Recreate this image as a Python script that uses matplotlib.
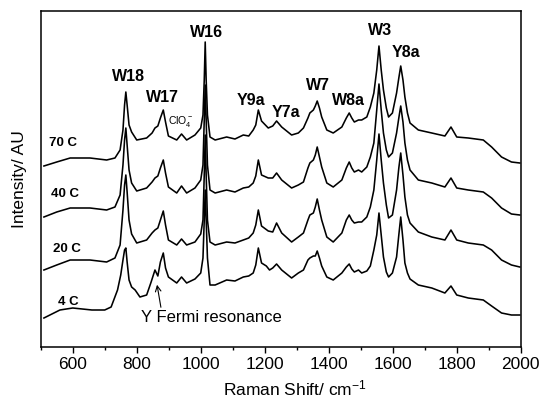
import matplotlib
matplotlib.use("Agg")
import matplotlib.pyplot as plt

plt.rcParams['font.family'] = ['Liberation Sans', 'DejaVu Sans']
plt.rcParams['mathtext.fontset'] = 'custom'
plt.rcParams['mathtext.rm'] = 'Liberation Sans'
plt.rcParams['mathtext.it'] = 'Liberation Sans:italic'
plt.rcParams['mathtext.bf'] = 'Liberation Sans:bold'

# Raman shift (cm-1) and stacked intensity (AU) for each temperature
shift_70 = [510, 550, 592, 654, 706, 732, 748, 757, 762, 766, 770, 776, 784, 800, 831, 848, 857, 866, 874, 883,
            890, 899, 925, 940, 956, 982, 1000, 1007, 1011, 1014, 1017, 1021, 1029, 1045, 1081, 1107, 1133, 1150,
            1164, 1172, 1180, 1190, 1211, 1225, 1237, 1253, 1284, 1305, 1321, 1335, 1341, 1352, 1358, 1364, 1371,
            1378, 1394, 1414, 1441, 1455, 1464, 1472, 1480, 1493, 1503, 1519, 1530, 1541, 1550, 1557, 1564, 1571,
            1580, 1587, 1599, 1612, 1619, 1625, 1632, 1638, 1646, 1654, 1680, 1722, 1763, 1782, 1800, 1836, 1883,
            1909, 1940, 1971, 1997]
int_70 = [181, 185, 189, 189, 187, 189, 197, 217, 242, 255, 242, 222, 215, 207, 209, 214, 219, 221, 229, 237,
          225, 211, 207, 213, 207, 212, 219, 232, 267, 305, 267, 232, 210, 207, 210, 208, 212, 211,
          217, 222, 237, 226, 219, 221, 226, 220, 212, 214, 219, 229, 234, 237, 241, 246, 239,
          230, 217, 214, 220, 229, 234, 229, 225, 227, 227, 230, 240, 254, 277, 301, 277, 257,
          239, 230, 234, 254, 269, 281, 267, 250, 234, 224, 217, 214, 211, 220, 210, 209, 207,
          200, 190, 185, 184]

shift_40 = shift_70
int_40 = [130, 135, 139, 139, 137, 140, 152, 182, 207, 219, 202, 177, 164, 156, 159, 165, 169, 171, 179, 187,
          174, 160, 154, 161, 154, 159, 167, 182, 227, 262, 227, 182, 157, 154, 157, 155, 159, 160,
          164, 171, 187, 172, 169, 169, 174, 167, 159, 162, 165, 179, 184, 187, 192, 200, 190,
          180, 164, 160, 167, 179, 185, 179, 175, 177, 175, 180, 190, 204, 237, 263, 237, 214,
          197, 190, 194, 214, 229, 241, 225, 204, 187, 177, 167, 164, 160, 169, 159, 157, 155,
          149, 139, 133, 132]

shift_20 = shift_70
int_20 = [77, 82, 87, 87, 85, 89, 102, 137, 162, 172, 155, 127, 113, 104, 107, 114, 117, 119, 127, 136,
          122, 107, 102, 108, 102, 105, 113, 127, 172, 212, 172, 127, 105, 102, 105, 104, 107, 109,
          114, 122, 137, 121, 116, 115, 124, 114, 105, 110, 114, 127, 132, 134, 140, 148, 137,
          127, 110, 105, 114, 127, 132, 127, 124, 125, 125, 130, 140, 157, 187, 213, 187, 164,
          142, 129, 132, 157, 179, 194, 172, 150, 132, 124, 115, 110, 107, 117, 107, 104, 102,
          97, 87, 82, 80]

shift_4 = [510, 560, 600, 660, 700, 720, 740, 750, 757, 762, 766, 770, 776, 784, 795, 810, 831, 845, 857, 866,
           874, 883, 890, 899, 925, 940, 956, 982, 1000, 1007, 1011, 1014, 1017, 1021, 1029, 1045, 1081, 1107,
           1133, 1150, 1164, 1172, 1180, 1190, 1205, 1215, 1225, 1237, 1253, 1284, 1305, 1321, 1335, 1341, 1352,
           1358, 1364, 1371, 1378, 1394, 1414, 1441, 1455, 1464, 1472, 1480, 1493, 1503, 1519, 1530, 1541, 1550,
           1557, 1564, 1571, 1580, 1587, 1599, 1612, 1619, 1625, 1632, 1638, 1646, 1654, 1680, 1722, 1763, 1782,
           1800, 1836, 1883, 1909, 1940, 1971, 1997]
int_4 = [29, 37, 39, 37, 37, 40, 57, 72, 87, 97, 99, 85, 67, 60, 57, 50, 52, 65, 77, 71,
         85, 94, 79, 70, 64, 70, 64, 68, 74, 89, 127, 157, 127, 89, 62, 62, 67, 66,
         70, 71, 74, 82, 99, 84, 81, 77, 79, 83, 77, 69, 74, 77, 87, 89, 91,
         91, 96, 89, 81, 70, 67, 74, 80, 83, 78, 75, 77, 74, 76, 81, 97, 112,
         134, 112, 90, 75, 70, 74, 90, 112, 130, 107, 84, 74, 68, 62, 59, 54, 61,
         52, 49, 47, 41, 34, 32, 32]

temp_labels = ['70 C', '40 C', '20 C', '4 C']
temp_label_x = [570, 576, 581, 586]
temp_label_y = [204, 153, 98, 45]

band_names = ['W18', 'W17', 'W16', 'Y9a', 'Y7a', 'W7', 'W8a', 'W3', 'Y8a']
band_x = [773, 881, 1019, 1157, 1266, 1367, 1463, 1559, 1640]
band_y = [271, 250, 315, 247, 235, 262, 247, 317, 295]

fig = plt.figure(figsize=(5.43, 4.0), dpi=100)
ax = fig.add_axes([0.075, 0.1325, 0.884, 0.84])

for xs, ys in [(shift_70, int_70), (shift_40, int_40), (shift_20, int_20), (shift_4, int_4)]:
    ax.plot(xs, ys, color='black', lw=1.15)

for t, x, y in zip(temp_labels, temp_label_x, temp_label_y):
    ax.text(x, y, t, fontsize=9.5, fontweight='bold', ha='center', va='center')

for name, x, y in zip(band_names, band_x, band_y):
    ax.text(x, y, name, fontsize=11.5, fontweight='bold', ha='center', va='center')

ax.text(938, 226, r'ClO$_4^-$', fontsize=7.5, ha='center', va='center')

ax.annotate('', xy=(862, 65), xytext=(877, 37),
            arrowprops=dict(arrowstyle='->', color='black', lw=0.8))
ax.text(1034, 29, 'Y Fermi resonance', fontsize=12, ha='center', va='center')

ax.set_xlim(500, 2000)
ax.set_ylim(0, 336)
ax.set_xticks([600, 800, 1000, 1200, 1400, 1600, 1800, 2000])
ax.set_xticks(range(500, 2001, 100), minor=True)
ax.set_yticks([])
ax.tick_params(axis='x', which='major', length=4.5, width=1, labelsize=12.5, pad=3)
ax.tick_params(axis='x', which='minor', length=2.3, width=1)
for s in ax.spines.values():
    s.set_linewidth(1.1)

ax.set_xlabel('Raman Shift/ cm$^{-1}$', fontsize=12.5)
ax.xaxis.set_label_coords(0.53, -0.095)
ax.set_ylabel('Intensity/ AU', fontsize=12.5, labelpad=10)

fig.savefig('out.png', dpi=100)
